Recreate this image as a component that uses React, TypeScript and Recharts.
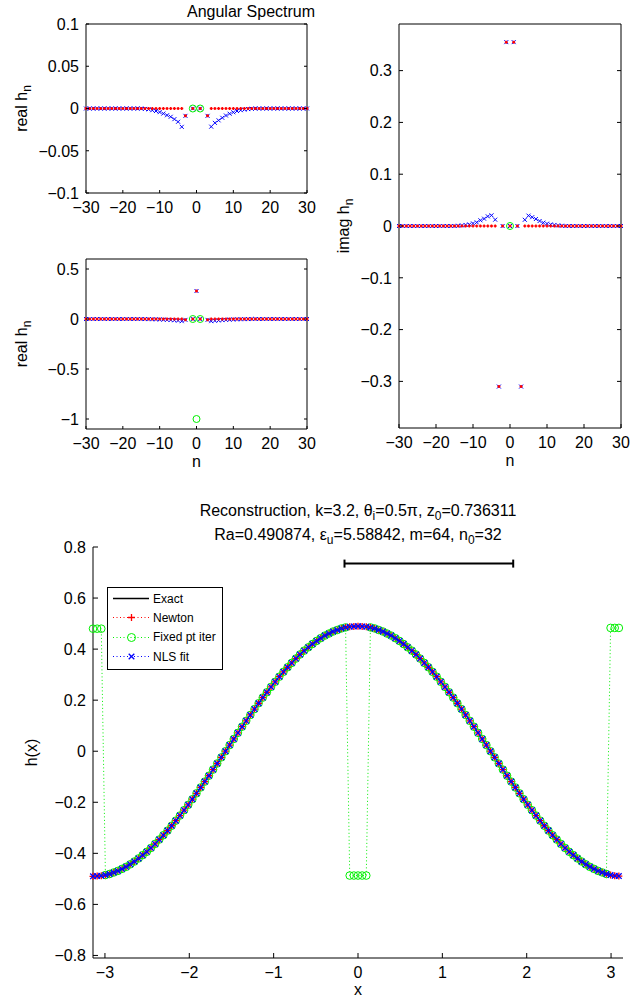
import React from "react";
import { ScatterChart, Scatter, XAxis, YAxis, Legend } from "recharts";

const FONT = '"Liberation Sans", Arial, Helvetica, sans-serif';
const RED = "#ff0000";
const GREEN = "#00f000";
const BLUE = "#0000ff";

// angular spectrum, mode index n = -30..30
const modeN = Array.from({ length: 61 }, (_, i) => i - 30);
const nTicks = [-30, -20, -10, 0, 10, 20, 30];

const newtonRe = [
  0, 0, 0, 0, 0, 0, 0, 0, 0, 0,
  0, 0, 0, 0, 0, 0, 0, 0, 0, 0,
  0, 0, 0, 0, 0, 0, 0, -0.0087, null, 0,
  0.28,
  0, null, -0.0087, 0, 0, 0, 0, 0, 0, 0,
  0, 0, 0, 0, 0, 0, 0, 0, 0, 0,
  0, 0, 0, 0, 0, 0, 0, 0, 0, 0,
];
const nlsRe = [
  0, 0, 0, 0, 0, 0, 0, 0, 0, 0,
  0, 0, 0, 0, 0, 0, -0.0005, -0.001, -0.002, -0.003,
  -0.0043, -0.006, -0.008, -0.0098, -0.0126, -0.0157, -0.0217, -0.0087, null, 0,
  0.28,
  0, null, -0.0087, -0.0215, -0.017, -0.014, -0.011, -0.0083, -0.0062, -0.0045,
  -0.003, -0.002, -0.0013, -0.0007, -0.0003, 0, 0, 0, 0, 0,
  0, 0, 0, 0, 0, 0, 0, 0, 0, 0,
];
const fixedReN = [-1, 0, 1];
const fixedRe = [0, -1, 0];

const newtonIm = [
  0, 0, 0, 0, 0, 0, 0, 0, 0, 0,
  0, 0, 0, 0, 0, 0, 0, 0, 0, 0,
  0, 0, 0, 0, 0, 0, 0, -0.31, 0, 0.355,
  0,
  0.355, 0, -0.31, 0, 0, 0, 0, 0, 0, 0,
  0, 0, 0, 0, 0, 0, 0, 0, 0, 0,
  0, 0, 0, 0, 0, 0, 0, 0, 0, 0,
];
const nlsIm = [
  0, 0, 0, 0, 0, 0, 0, 0, 0, 0,
  0, 0, 0, 0, 0, 0, 0.0005, 0.001, 0.002, 0.003,
  0.005, 0.007, 0.011, 0.0141, 0.0186, 0.0206, 0.0122, -0.31, 0, 0.355,
  0,
  0.355, 0, -0.31, 0.012, 0.02, 0.017, 0.0135, 0.0096, 0.0064, 0.0045,
  0.003, 0.002, 0.001, 0.0005, 0, 0, 0, 0, 0, 0,
  0, 0, 0, 0, 0, 0, 0, 0, 0, 0,
];
const fixedImN = [0];
const fixedIm = [0];

// reconstruction, 128 samples on [-pi, pi)
const xGrid = Array.from({ length: 128 }, (_, k) => -Math.PI + (k * Math.PI) / 64);

const hExact = [
  -0.49, -0.489, -0.488, -0.485, -0.481, -0.475, -0.469, -0.461,
  -0.453, -0.443, -0.432, -0.42, -0.407, -0.394, -0.379, -0.363,
  -0.346, -0.329, -0.311, -0.292, -0.272, -0.252, -0.231, -0.21,
  -0.188, -0.165, -0.142, -0.119, -0.096, -0.072, -0.048, -0.024,
  0, 0.024, 0.048, 0.072, 0.096, 0.119, 0.142, 0.165,
  0.188, 0.21, 0.231, 0.252, 0.272, 0.292, 0.311, 0.329,
  0.346, 0.363, 0.379, 0.394, 0.407, 0.42, 0.432, 0.443,
  0.453, 0.461, 0.469, 0.475, 0.481, 0.485, 0.488, 0.489,
  0.49, 0.489, 0.488, 0.485, 0.481, 0.475, 0.469, 0.461,
  0.453, 0.443, 0.432, 0.42, 0.407, 0.394, 0.379, 0.363,
  0.346, 0.329, 0.311, 0.292, 0.272, 0.252, 0.231, 0.21,
  0.188, 0.165, 0.142, 0.119, 0.096, 0.072, 0.048, 0.024,
  0, -0.024, -0.048, -0.072, -0.096, -0.119, -0.142, -0.165,
  -0.188, -0.21, -0.231, -0.252, -0.272, -0.292, -0.311, -0.329,
  -0.346, -0.363, -0.379, -0.394, -0.407, -0.42, -0.432, -0.443,
  -0.453, -0.461, -0.469, -0.475, -0.481, -0.485, -0.488, -0.489,
];
const hNewton = hExact;
const hNls = hExact;
const hFixed = [
  0.48, 0.48, 0.48, -0.485, -0.481, -0.475, -0.469, -0.461,
  -0.453, -0.443, -0.432, -0.42, -0.407, -0.394, -0.379, -0.363,
  -0.346, -0.329, -0.311, -0.292, -0.272, -0.252, -0.231, -0.21,
  -0.188, -0.165, -0.142, -0.119, -0.096, -0.072, -0.048, -0.024,
  0, 0.024, 0.048, 0.072, 0.096, 0.119, 0.142, 0.165,
  0.188, 0.21, 0.231, 0.252, 0.272, 0.292, 0.311, 0.329,
  0.346, 0.363, 0.379, 0.394, 0.407, 0.42, 0.432, 0.443,
  0.453, 0.461, 0.469, 0.475, 0.481, 0.485, -0.487, -0.487,
  -0.487, -0.487, -0.487, 0.485, 0.481, 0.475, 0.469, 0.461,
  0.453, 0.443, 0.432, 0.42, 0.407, 0.394, 0.379, 0.363,
  0.346, 0.329, 0.311, 0.292, 0.272, 0.252, 0.231, 0.21,
  0.188, 0.165, 0.142, 0.119, 0.096, 0.072, 0.048, 0.024,
  0, -0.024, -0.048, -0.072, -0.096, -0.119, -0.142, -0.165,
  -0.188, -0.21, -0.231, -0.252, -0.272, -0.292, -0.311, -0.329,
  -0.346, -0.363, -0.379, -0.394, -0.407, -0.42, -0.432, -0.443,
  -0.453, -0.461, -0.469, -0.475, -0.481, 0.483, 0.483, 0.483,
];
const barX = [-0.16, 1.84];
const barY = [0.735, 0.735];
const xTicks = [-3, -2, -1, 0, 1, 2, 3];
const hTicks = [-0.8, -0.6, -0.4, -0.2, 0, 0.2, 0.4, 0.6, 0.8];

const legendItems = [
  { name: "Exact", color: "#000", dash: undefined as string | undefined, marker: "none" },
  { name: "Newton", color: RED, dash: "1 2.5", marker: "plus" },
  { name: "Fixed pt iter", color: GREEN, dash: "1 2.5", marker: "circle" },
  { name: "NLS fit", color: BLUE, dash: "1 2.5", marker: "cross" },
];

type Pt = { x: number; y: number };
const pts = (xs: number[], ys: (number | null)[]): Pt[] =>
  xs.map((x, i) => ({ x, y: ys[i] as number })).filter((p) => p.y !== null && p.y !== undefined);

const fmt = (v: number) => (v < 0 ? "\u2212" + String(-v) : String(v));
const txt = { fontFamily: FONT, fontSize: 16, fill: "#000" };

// markers
const plus = (c: string, r: number, w: number) => (p: any) =>
  <path d={`M${p.cx - r} ${p.cy}H${p.cx + r}M${p.cx} ${p.cy - r}V${p.cy + r}`} stroke={c} strokeWidth={w} fill="none" />;
const cross = (c: string, r: number, w: number) => (p: any) =>
  <path d={`M${p.cx - r} ${p.cy - r}L${p.cx + r} ${p.cy + r}M${p.cx - r} ${p.cy + r}L${p.cx + r} ${p.cy - r}`} stroke={c} strokeWidth={w} fill="none" />;
const ring = (c: string, r: number) => (p: any) =>
  <circle cx={p.cx} cy={p.cy} r={r} stroke={c} strokeWidth={1} fill="none" />;
const nothing = () => <g />;
const cap = (p: any) => <path d={`M${p.cx} ${p.cy - 4}V${p.cy + 4}`} stroke="#000" strokeWidth={2} />;

// inward ticks, matlab style
const tickBottom = (len: number) => (p: any) => (
  <g>
    <line x1={p.x} x2={p.x} y1={p.y} y2={p.y - len} stroke="#000" />
    <text x={p.x} y={p.y + 20} textAnchor="middle" {...txt}>{fmt(p.payload.value)}</text>
  </g>
);
const tickTop = (len: number) => (p: any) => <line x1={p.x} x2={p.x} y1={p.y} y2={p.y + len} stroke="#000" />;
const tickLeft = (len: number) => (p: any) => (
  <g>
    <line x1={p.x} x2={p.x + len} y1={p.y} y2={p.y} stroke="#000" />
    <text x={p.x - 7} y={p.y} dy="0.36em" textAnchor="end" {...txt}>{fmt(p.payload.value)}</text>
  </g>
);
const tickRight = (len: number) => (p: any) => <line x1={p.x} x2={p.x - len} y1={p.y} y2={p.y} stroke="#000" />;

const yTitle = (main: string, sub: string | undefined, off: number) => (p: any) => {
  const vb = p.viewBox || { x: 0, y: 0, width: 0, height: 0 };
  const x = vb.x + vb.width - off;
  const y = vb.y + vb.height / 2;
  return (
    <text x={x} y={y} transform={`rotate(-90 ${x} ${y})`} textAnchor="middle" {...txt}>
      {main}
      {sub && <tspan fontSize={12} dy={4}>{sub}</tspan>}
    </text>
  );
};
const xTitle = (main: string, off: number) => (p: any) => {
  const vb = p.viewBox || { x: 0, y: 0, width: 0, height: 0 };
  return <text x={vb.x + vb.width / 2} y={vb.y + off} textAnchor="middle" {...txt}>{main}</text>;
};

type Ser = { data: Pt[]; shape: (p: any) => React.ReactElement };

function SpectrumPanel(props: {
  w: number; h: number; plot: number[]; yDomain: [number, number]; yTicks: number[];
  yMain: string; yOff: number; xLabel?: string; tickLen: number; series: Ser[];
}) {
  const { w, h, plot, yDomain, yTicks, yMain, yOff, xLabel, tickLen, series } = props;
  const [l, t, r, b] = plot;
  return (
    <ScatterChart width={w} height={h} margin={{ left: l - 40, top: t - 2, right: w - r - 2, bottom: h - b - 20 }}>
      <XAxis type="number" dataKey="x" domain={[-30, 30]} ticks={nTicks} interval={0}
        height={20} tickSize={0} tickMargin={0} axisLine={{ stroke: "#000" }} tickLine={false}
        tick={tickBottom(tickLen)} label={xLabel ? xTitle(xLabel, 38) : undefined} />
      <XAxis xAxisId="top" orientation="top" type="number" domain={[-30, 30]} allowDataOverflow ticks={nTicks}
        interval={0} height={2} tickSize={0} tickMargin={0} axisLine={{ stroke: "#000" }} tickLine={false}
        tick={tickTop(tickLen)} />
      <YAxis type="number" dataKey="y" domain={yDomain} ticks={yTicks} interval={0} width={40}
        tickSize={0} tickMargin={0} axisLine={{ stroke: "#000" }} tickLine={false}
        tick={tickLeft(tickLen)} label={yTitle(yMain, "n", yOff)} />
      <YAxis yAxisId="right" orientation="right" type="number" domain={yDomain} allowDataOverflow ticks={yTicks}
        interval={0} width={2} tickSize={0} tickMargin={0} axisLine={{ stroke: "#000" }} tickLine={false}
        tick={tickRight(tickLen)} />
      {series.map((s, i) => (
        <Scatter key={i} data={s.data.filter((p) => p.y >= yDomain[0] && p.y <= yDomain[1])}
          shape={s.shape} isAnimationActive={false} />
      ))}
    </ScatterChart>
  );
}

const realSeries: Ser[] = [
  { data: pts(modeN, nlsRe), shape: cross(BLUE, 2, 1) },
  { data: pts(modeN, newtonRe), shape: plus(RED, 1.5, 1.5) },
  { data: pts(fixedReN, fixedRe), shape: ring(GREEN, 3.5) },
];
const imagSeries: Ser[] = [
  { data: pts(modeN, nlsIm), shape: cross(BLUE, 2, 1) },
  { data: pts(modeN, newtonIm), shape: plus(RED, 1.5, 1.5) },
  { data: pts(fixedImN, fixedIm), shape: ring(GREEN, 3.5) },
];

function LegendBox() {
  return (
    <div style={{ width: 116, height: 83, border: "1.3px solid #000", background: "#fff", boxSizing: "border-box",
      fontFamily: FONT, fontSize: 12, color: "#000", paddingTop: 1 }}>
      {legendItems.map((it) => (
        <div key={it.name} style={{ height: 19.3, display: "flex", alignItems: "center" }}>
          <svg width={44} height={19} style={{ flex: "none" }}>
            <line x1={5} x2={41} y1={9.5} y2={9.5} stroke={it.color} strokeDasharray={it.dash} strokeWidth={it.dash ? 1 : 1.3} />
            {it.marker === "plus" && plus(RED, 3.5, 1.3)({ cx: 23.5, cy: 9.5 })}
            {it.marker === "circle" && ring(GREEN, 4)({ cx: 23.5, cy: 9.5 })}
            {it.marker === "cross" && cross(BLUE, 2.8, 1.3)({ cx: 23.5, cy: 9.5 })}
          </svg>
          <span style={{ marginLeft: 1, whiteSpace: "nowrap" }}>{it.name}</span>
        </div>
      ))}
    </div>
  );
}

function Reconstruction() {
  const W = 642, H = 521;
  const [l, t, r, b] = [93, 67, 623, 478];
  return (
    <ScatterChart width={W} height={H} margin={{ left: l - 40, top: t, right: W - r, bottom: H - b - 20 }}>
      <XAxis type="number" dataKey="x" domain={[-Math.PI, Math.PI]} ticks={xTicks} interval={0}
        height={20} tickSize={0} tickMargin={0} axisLine={{ stroke: "#000" }} tickLine={false}
        tick={tickBottom(5)} label={xTitle("x", 37)} />
      <YAxis type="number" dataKey="y" domain={[-0.81, 0.8]} ticks={hTicks} interval={0} width={40}
        tickSize={0} tickMargin={0} axisLine={{ stroke: "#000" }} tickLine={false}
        tick={tickLeft(5)} label={yTitle("h(x)", undefined, 56)} />
      <Scatter data={pts(xGrid, hExact)} shape={nothing} line={{ stroke: "#000", strokeWidth: 1 }} isAnimationActive={false} />
      <Scatter data={pts(xGrid, hNewton)} shape={plus(RED, 3.5, 1.3)}
        line={{ stroke: RED, strokeWidth: 1, strokeDasharray: "1 2.5" }} isAnimationActive={false} />
      <Scatter data={pts(xGrid, hFixed)} shape={ring(GREEN, 3.8)}
        line={{ stroke: GREEN, strokeWidth: 1, strokeDasharray: "1 2.5" }} isAnimationActive={false} />
      <Scatter data={pts(xGrid, hNls)} shape={cross(BLUE, 2.8, 1.3)}
        line={{ stroke: BLUE, strokeWidth: 1, strokeDasharray: "1 2.5" }} isAnimationActive={false} />
      <Scatter data={pts(barX, barY)} shape={cap} line={{ stroke: "#000", strokeWidth: 2 }} isAnimationActive={false} />
      <Legend layout="vertical" align="center" verticalAlign="middle" content={() => <LegendBox />}
        wrapperStyle={{ left: 107, top: 107, width: 116, height: 83 }} />
    </ScatterChart>
  );
}

const subStyle: React.CSSProperties = { fontSize: 12, verticalAlign: -4, lineHeight: 0 };

export default function App() {
  return (
    <div style={{ position: "absolute", left: 0, top: 0, width: 642, height: 1001, overflow: "hidden", background: "#fff", fontFamily: FONT }}>
      <div style={{ position: "absolute", left: 187, top: 4, fontSize: 16, lineHeight: "16px", whiteSpace: "nowrap" }}>
        Angular Spectrum
      </div>
      <div style={{ position: "absolute", left: 0, top: 0 }}>
        <SpectrumPanel w={320} h={220} plot={[86, 24, 307, 193]} yDomain={[-0.1, 0.1]}
          yTicks={[-0.1, -0.05, 0, 0.05, 0.1]} yMain="real h" yOff={59} tickLen={3} series={realSeries} />
      </div>
      <div style={{ position: "absolute", left: 0, top: 220 }}>
        <SpectrumPanel w={320} h={250} plot={[86, 39, 307, 209]} yDomain={[-1.1, 0.6]}
          yTicks={[-1, -0.5, 0, 0.5]} yMain="real h" yOff={59} xLabel="n" tickLen={3} series={realSeries} />
      </div>
      <div style={{ position: "absolute", left: 320, top: 0 }}>
        <SpectrumPanel w={322} h={470} plot={[79, 24, 301, 428]} yDomain={[-0.39, 0.39]}
          yTicks={[-0.3, -0.2, -0.1, 0, 0.1, 0.2, 0.3]} yMain="imag h" yOff={50} xLabel="n" tickLen={4} series={imagSeries} />
      </div>
      <div style={{ position: "absolute", left: 93, width: 530, top: 502, fontSize: 16, lineHeight: "18px", textAlign: "center", whiteSpace: "nowrap" }}>
        Reconstruction, k=3.2, θ<span style={subStyle}>i</span>=0.5π, z<span style={subStyle}>0</span>=0.736311
      </div>
      <div style={{ position: "absolute", left: 93, width: 530, top: 526, fontSize: 16, lineHeight: "18px", textAlign: "center", whiteSpace: "nowrap" }}>
        Ra=0.490874, ε<span style={subStyle}>u</span>=5.58842, m=64, n<span style={subStyle}>0</span>=32
      </div>
      <div style={{ position: "absolute", left: 0, top: 480 }}>
        <Reconstruction />
      </div>
    </div>
  );
}
